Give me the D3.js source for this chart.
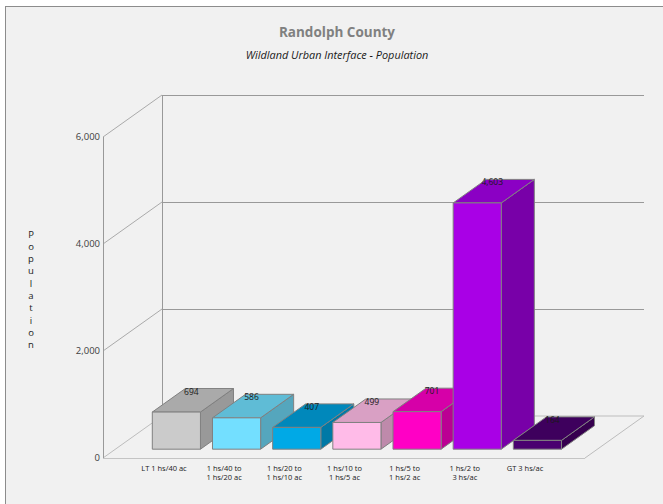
<!DOCTYPE html>
<html><head><meta charset="utf-8">
<script src="https://cdn.jsdelivr.net/npm/d3@7"></script>
<style>
html,body{margin:0;padding:0;background:#fff;}
svg{display:block;}
</style></head>
<body>
<svg id="chart" width="663" height="504"></svg>
<script>
const categories = [
  ["LT 1 hs/40 ac"],
  ["1 hs/40 to","1 hs/20 ac"],
  ["1 hs/20 to","1 hs/10 ac"],
  ["1 hs/10 to","1 hs/5 ac"],
  ["1 hs/5 to","1 hs/2 ac"],
  ["1 hs/2 to","3 hs/ac"],
  ["GT 3 hs/ac"]
];
const values = [694, 586, 407, 499, 701, 4603, 164];
const yTicks = [0, 2000, 4000, 6000];
const frontColors = ["#cbcbcb","#73dfff","#00a9e6","#ffbbe8","#ff00c5","#a900e6","#4a0070"];
const topColors   = ["#aaaaaa","#5fbcd6","#0088bb","#d9a0c4","#d600a8","#8b00c4","#3e005d"];
const sideColors  = ["#999999","#55a6bd","#0079a6","#be8aab","#bb0093","#7800a8","#36004f"];

const svg = d3.select("#chart");
const font = "'Open Sans', 'Noto Sans', sans-serif";

// background and frame
svg.append("rect").attr("x",0).attr("y",0).attr("width",663).attr("height",504).attr("fill","#ffffff");
svg.append("rect").attr("x",5.5).attr("y",6.5).attr("width",700).attr("height",600)
  .attr("fill","#f1f1f1").attr("stroke","#8c8c8c").attr("stroke-width",1);

// 3D projection parameters
const DX = 59, DY = 42;
const x0 = 103, x1 = 585;
const y = d3.scaleLinear().domain([0, 6000]).range([458, 137]);
const x = d3.scaleBand().domain(d3.range(categories.length))
  .range([133.9, 555.1]).paddingInner(0.2).paddingOuter(0.1);
const P = (px, v, d) => [px + d*DX, y(v) - d*DY];

const g = svg.append("g");

// back wall gridlines
yTicks.forEach(t => {
  if (t === 0) return;
  const a = P(x0, t, 1), b = P(x1, t, 1);
  g.append("line").attr("x1",a[0]).attr("y1",a[1]+0.5).attr("x2",b[0]).attr("y2",b[1]+0.5)
    .attr("stroke","#999").attr("stroke-width",1);
  const c = P(x0, t, 0);
  g.append("line").attr("x1",c[0]).attr("y1",c[1]).attr("x2",a[0]).attr("y2",a[1])
    .attr("stroke","#aaa").attr("stroke-width",1);
});
// back wall left vertical
{
  const a = P(x0, 6000, 1), b = P(x0, 0, 1);
  g.append("line").attr("x1",a[0]+0.5).attr("y1",a[1]).attr("x2",b[0]+0.5).attr("y2",b[1])
    .attr("stroke","#999");
}
// floor
{
  const fl = P(x0,0,0), fr = P(x1,0,0), bl = P(x0,0,1), br = P(x1,0,1);
  g.append("path").attr("d", `M${fl}L${bl}L${br}L${fr}`)
    .attr("fill","none").attr("stroke","#bdbdbd");
  g.append("line").attr("x1",fl[0]).attr("y1",fl[1]+0.5).attr("x2",fr[0]).attr("y2",fr[1]+0.5)
    .attr("stroke","#c4c4c4");
}
// front axis
{
  const a = P(x0, 6000, 0), b = P(x0, 0, 0);
  g.append("line").attr("x1",a[0]+0.5).attr("y1",a[1]).attr("x2",b[0]+0.5).attr("y2",b[1])
    .attr("stroke","#999");
}
// y tick labels
yTicks.forEach(t => {
  const p = P(x0, t, 0);
  g.append("text").attr("x", p[0]-3).attr("y", p[1]).attr("dy","0.35em")
    .attr("text-anchor","end").attr("font-family",font).attr("font-size",9.5)
    .attr("fill","#404040").text(d3.format(",")(t));
});

// bars
const dF = 0.21, dB = 0.77;
values.forEach((v, i) => {
  const xl = x(i), xr = x(i) + x.bandwidth();
  const fbl = P(xl,0,dF), fbr = P(xr,0,dF), ftl = P(xl,v,dF), ftr = P(xr,v,dF);
  const btl = P(xl,v,dB), btr = P(xr,v,dB), bbr = P(xr,0,dB);
  const bg = g.append("g");
  bg.append("path").attr("d",`M${fbr}L${bbr}L${btr}L${ftr}Z`)
    .attr("fill",sideColors[i]).attr("stroke","#808080").attr("stroke-width",1).attr("stroke-linejoin","round");
  bg.append("path").attr("d",`M${ftl}L${btl}L${btr}L${ftr}Z`)
    .attr("fill",topColors[i]).attr("stroke","#808080").attr("stroke-width",1).attr("stroke-linejoin","round");
  bg.append("path").attr("d",`M${fbl}L${ftl}L${ftr}L${fbr}Z`)
    .attr("fill",frontColors[i]).attr("stroke","#808080").attr("stroke-width",1).attr("stroke-linejoin","round");
  // value label
  const cx = (xl+xr)/2 + dF*DX + 15;
  const ly = btl[1] + 3;
  bg.append("text").attr("x",cx).attr("y",ly).attr("dy","0.35em").attr("text-anchor","middle")
    .attr("font-family",font).attr("font-size",8.5).attr("fill","#1a1a1a")
    .text(d3.format(",")(v));
});

// category labels
categories.forEach((lines, i) => {
  const cx = x(i) + x.bandwidth()/2;
  const t = g.append("text").attr("text-anchor","middle")
    .attr("font-family",font).attr("font-size",7.5).attr("fill","#1a1a1a");
  lines.forEach((s, k) => {
    t.append("tspan").attr("x",cx).attr("y",470.5 + k*9.6).text(s);
  });
});

// titles
svg.append("text").attr("x",337).attr("y",36.5).attr("text-anchor","middle")
  .attr("font-family",font).attr("font-weight","bold").attr("font-size",13.5)
  .attr("fill","#808080").text("Randolph County");
svg.append("text").attr("x",337).attr("y",59).attr("text-anchor","middle")
  .attr("font-family",font).attr("font-style","italic").attr("font-size",10.9)
  .attr("fill","#1a1a1a").text("Wildland Urban Interface - Population");

// y axis title: stacked letters
const yTitle = svg.append("text").attr("text-anchor","middle")
  .attr("font-family",font).attr("font-size",9.5).attr("fill","#1a1a1a");
"Population".split("").forEach((ch, k) => {
  yTitle.append("tspan").attr("x",31).attr("y",237.5 + k*12.3).text(ch);
});
</script>
</body></html>
